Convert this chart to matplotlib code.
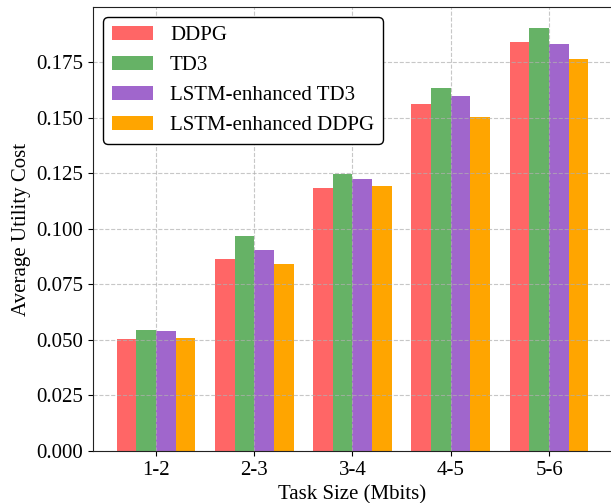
import numpy as np
import matplotlib.pyplot as plt

plt.rcParams['font.family'] = ['Liberation Serif', 'DejaVu Serif']
plt.rcParams['font.size'] = 15

sizes = ['1-2', '2-3', '3-4', '4-5', '5-6']
ddpg = [0.0504, 0.0864, 0.1183, 0.1561, 0.1840]
td3 = [0.0544, 0.0967, 0.1246, 0.1633, 0.1903]
lstm_td3 = [0.0540, 0.0904, 0.1224, 0.1597, 0.1831]
lstm_ddpg = [0.0508, 0.0841, 0.1192, 0.1503, 0.1764]

names = ['DDPG', 'TD3', 'LSTM-enhanced TD3', 'LSTM-enhanced DDPG']
colors = ['#FF6666', '#66B266', '#A066CC', '#FFA500']
series = [ddpg, td3, lstm_td3, lstm_ddpg]

fig = plt.figure(figsize=(6.11, 5.03), dpi=100)
ax = fig.add_axes([0.1522, 0.1034, 0.8494, 0.8827])

x = np.arange(len(sizes))
w = 0.2
for i, (vals, name, c) in enumerate(zip(series, names, colors)):
    ax.bar(x + (i - 1.5) * w, vals, w, color=c, label=name)

ax.set_xticks(x)
ax.set_xticklabels(sizes)
ax.set_xlim(-0.64, 4.64)
ax.set_ylim(0, 0.1998)
ax.set_yticks(np.arange(0, 0.176, 0.025))
ax.yaxis.set_major_formatter(plt.FormatStrFormatter('%.3f'))
ax.set_xlabel('Task Size (Mbits)')
ax.set_ylabel('Average Utility Cost')
ax.grid(True, linestyle='--', alpha=0.7)
for s in ax.spines.values():
    s.set_color('#222222')

leg = ax.legend(loc='upper left', framealpha=1)
leg.get_frame().set_edgecolor('black')

fig.savefig('out.png', dpi=100)
